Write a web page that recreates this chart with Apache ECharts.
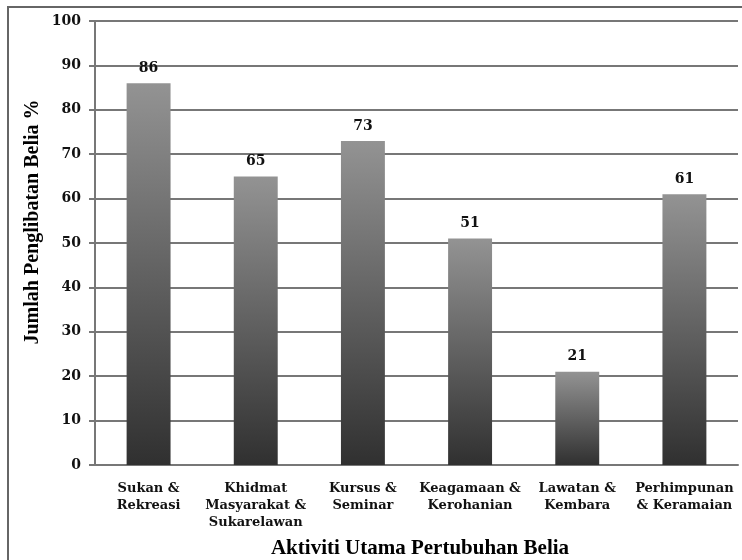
<!DOCTYPE html>
<html><head><meta charset="utf-8">
<script src="https://cdn.jsdelivr.net/npm/echarts@6/dist/echarts.min.js"></script>
<style>html,body{margin:0;padding:0;background:#fff}#c{width:742px;height:560px}</style>
</head><body><div id="c"></div>
<script>
var categories = ['Sukan &\nRekreasi', 'Khidmat\nMasyarakat &\nSukarelawan', 'Kursus &\nSeminar', 'Keagamaan &\nKerohanian', 'Lawatan &\nKembara', 'Perhimpunan\n& Keramaian'];
var values = [86, 65, 73, 51, 21, 61];
var yTitle = 'Jumlah Penglibatan Belia %';
var xTitle = 'Aktiviti Utama Pertubuhan Belia';

var chart = echarts.init(document.getElementById('c'));
var lblFont = 'DejaVu Serif';
chart.setOption({
  animation: false,
  grid: {left: 95, right: 4, top: 21, bottom: 95, containLabel: false},
  graphic: [
    {type: 'rect', shape: {x: 8, y: 7, width: 760, height: 600}, style: {fill: 'none', stroke: '#666', lineWidth: 2}, silent: true},
    {type: 'text', x: 420, y: 549, style: {text: xTitle, font: 'bold 21px "Liberation Serif"', fill: '#000', align: 'center', verticalAlign: 'middle'}, silent: true},
    {type: 'text', x: 33, y: 222, rotation: Math.PI / 2, style: {text: yTitle, font: 'bold 20px "Liberation Serif"', fill: '#000', align: 'center', verticalAlign: 'middle'}, silent: true}
  ],
  xAxis: {
    type: 'category', data: categories,
    axisLine: {lineStyle: {color: '#777', width: 2}},
    axisTick: {show: false},
    axisLabel: {color: '#111', fontFamily: lblFont, fontWeight: 'bold', fontSize: 13, lineHeight: 17, margin: 15, interval: 0}
  },
  yAxis: {
    type: 'value', min: 0, max: 100, interval: 10,
    axisLine: {show: true, lineStyle: {color: '#777', width: 2}},
    axisTick: {show: true, length: 6, lineStyle: {color: '#777', width: 2}},
    axisLabel: {color: '#111', fontFamily: lblFont, fontWeight: 'bold', fontSize: 14, margin: 14},
    splitLine: {lineStyle: {color: '#777', width: 2}}
  },
  series: [{
    type: 'bar', data: values, barWidth: '41%',
    itemStyle: {
      color: new echarts.graphic.LinearGradient(0, 0, 0, 1, [
        {offset: 0, color: '#939393'}, {offset: 1, color: '#303030'}
      ])
    },
    label: {show: true, position: 'top', distance: 8, color: '#111', fontFamily: lblFont, fontWeight: 'bold', fontSize: 14}
  }]
});
</script></body></html>
